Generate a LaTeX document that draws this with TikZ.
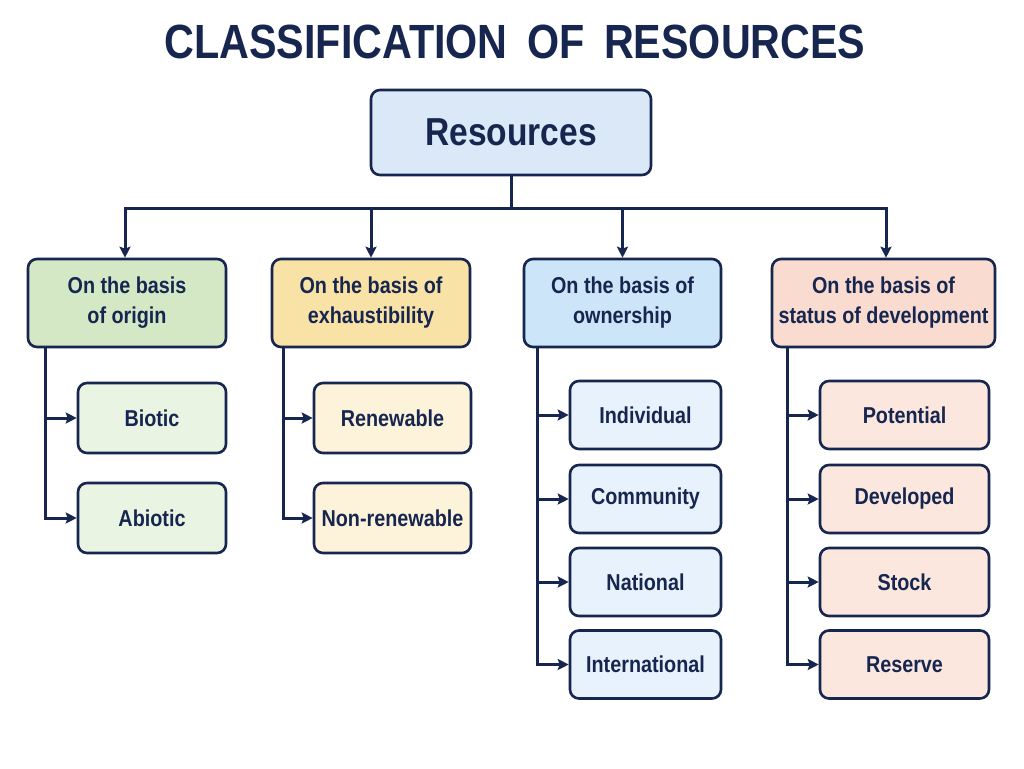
\documentclass[tikz,border=0pt]{standalone}
\usepackage{fontspec}
\setmainfont[FakeStretch=0.86]{Liberation Sans}
\usetikzlibrary{arrows.meta,calc}
\definecolor{navy}{HTML}{17264F}
\definecolor{resfill}{HTML}{DBE8F8}
\definecolor{gfill}{HTML}{D4E8C6}
\definecolor{yfill}{HTML}{F8E2A6}
\definecolor{bfill}{HTML}{CDE5F8}
\definecolor{pfill}{HTML}{F9DBD0}
\definecolor{gsub}{HTML}{E9F4E3}
\definecolor{ysub}{HTML}{FDF3DB}
\definecolor{bsub}{HTML}{E7F2FC}
\definecolor{psub}{HTML}{FCE7DF}
\begin{document}
\begin{tikzpicture}[x=1pt,y=-1pt,
  box/.style={draw=navy,line width=2.6pt,rounded corners=9pt,text=navy,font=\bfseries,align=center,inner sep=0pt},
  catbox/.style={box,minimum height=88pt,font=\bfseries\fontsize{23}{30}\selectfont},
  subbox/.style={box,font=\bfseries\fontsize{23}{28}\selectfont},
  link/.style={draw=navy,line width=3pt},
  arr/.style={link,-{Stealth[length=11pt,width=11pt,inset=2pt]}}]
\useasboundingbox (0,0) rectangle (1024,768);
\fill[white] (0,0) rectangle (1024,768);
\node[text=navy,font=\bfseries\fontsize{48}{56}\selectfont] (title) at (515,42) {CLASSIFICATION\, OF\, RESOURCES};
\node[box,fill=resfill,minimum width=280pt,minimum height=85pt,font=\bfseries\fontsize{39}{46}\selectfont] (res) at (511,132.5) {Resources};
% categories
\node[catbox,fill=gfill,minimum width=198pt] (c1) at (127,303) {On the basis\\of origin};
\node[catbox,fill=yfill,minimum width=198pt] (c2) at (371,303) {On the basis of\\exhaustibility};
\node[catbox,fill=bfill,minimum width=197pt] (c3) at (622.5,303) {On the basis of\\ownership};
\node[catbox,fill=pfill,minimum width=223pt] (c4) at (883.5,303) {On the basis of\\status of development};
% sub items
\node[subbox,fill=gsub,minimum width=148pt,minimum height=70pt] (a1) at (152,418) {Biotic};
\node[subbox,fill=gsub,minimum width=148pt,minimum height=70pt] (a2) at (152,518) {Abiotic};
\node[subbox,fill=ysub,minimum width=157pt,minimum height=70pt] (b1) at (392.5,418) {Renewable};
\node[subbox,fill=ysub,minimum width=157pt,minimum height=70pt] (b2) at (392.5,518) {Non-renewable};
\node[subbox,fill=bsub,minimum width=151pt,minimum height=68pt] (d1) at (645.5,415) {Individual};
\node[subbox,fill=bsub,minimum width=151pt,minimum height=68pt] (d2) at (645.5,499) {Community};
\node[subbox,fill=bsub,minimum width=151pt,minimum height=68pt] (d3) at (645.5,582) {National};
\node[subbox,fill=bsub,minimum width=151pt,minimum height=68pt] (d4) at (645.5,664.5) {International};
\node[subbox,fill=psub,minimum width=169pt,minimum height=68pt] (e1) at (904.5,415) {Potential};
\node[subbox,fill=psub,minimum width=169pt,minimum height=68pt] (e2) at (904.5,499) {Developed};
\node[subbox,fill=psub,minimum width=169pt,minimum height=68pt] (e3) at (904.5,582) {Stock};
\node[subbox,fill=psub,minimum width=169pt,minimum height=68pt] (e4) at (904.5,664.5) {Reserve};
% top connectors
\coordinate (hb) at (511,208);
\coordinate (hl) at (125,208);
\coordinate (hr) at (886,208);
\draw[link] (res.south) -- (hb);
\draw[link,line cap=rect] (hl) -- (hr);
\draw[arr] (hl) -- (hl |- c1.north);
\draw[arr] (c2.north |- hb) -- (c2.north);
\draw[arr] (c3.north |- hb) -- (c3.north);
\draw[arr] (hr) -- (hr |- c4.north);
% spines
\draw[arr] ($(c1.south west)+(19,0)$) |- (a1.west);
\draw[arr] ($(c1.south west)+(19,0)$) |- (a2.west);
\draw[arr] ($(c2.south west)+(13,0)$) |- (b1.west);
\draw[arr] ($(c2.south west)+(13,0)$) |- (b2.west);
\foreach \n in {d1,d2,d3,d4}{\draw[arr] ($(c3.south west)+(15,0)$) |- (\n.west);}
\foreach \n in {e1,e2,e3,e4}{\draw[arr] ($(c4.south west)+(17,0)$) |- (\n.west);}
\end{tikzpicture}
\end{document}
